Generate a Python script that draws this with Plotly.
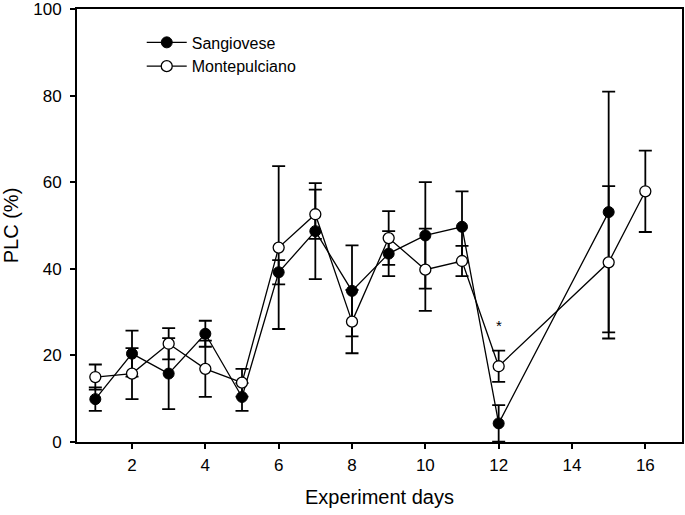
import plotly.graph_objects as go

# Sangiovese (filled circles)
days_s = [1, 2, 3, 4, 5, 6, 7, 8, 9, 10, 11, 12, 15]
plc_s = [9.9, 20.4, 15.8, 25.0, 10.4, 39.2, 48.7, 34.9, 43.5, 47.7, 49.7, 4.3, 53.1]
err_s = [2.7, 5.3, 8.2, 3.0, 3.2, 2.8, 11.1, 10.5, 5.2, 12.3, 8.2, 4.2, 27.8]

# Montepulciano (open circles)
days_m = [1, 2, 3, 4, 5, 6, 7, 8, 9, 10, 11, 12, 15, 16]
plc_m = [15.0, 15.8, 22.7, 16.9, 13.7, 44.9, 52.6, 27.8, 47.1, 39.8, 41.8, 17.5, 41.5, 57.9]
err_m = [2.9, 5.9, 3.6, 6.5, 3.2, 18.8, 5.7, 7.3, 6.2, 9.5, 3.5, 3.6, 17.6, 9.4]

x_ticks = [2, 4, 6, 8, 10, 12, 14, 16]
y_ticks = [0, 20, 40, 60, 80, 100]

FONT = "Liberation Sans, Arial, sans-serif"

fig = go.Figure()
fig.add_trace(go.Scatter(
    x=days_s, y=plc_s, name="Sangiovese", mode="lines+markers",
    line=dict(color="black", width=1.3),
    marker=dict(symbol="circle", size=11, color="black", line=dict(color="black", width=1)),
    error_y=dict(type="data", array=err_s, visible=True, color="black", thickness=1.8, width=6.5),
))
fig.add_trace(go.Scatter(
    x=days_m, y=plc_m, name="Montepulciano", mode="lines+markers",
    line=dict(color="black", width=1.3),
    marker=dict(symbol="circle", size=11, color="white", line=dict(color="black", width=1.3)),
    error_y=dict(type="data", array=err_m, visible=True, color="black", thickness=1.8, width=6.5),
))

fig.add_annotation(x=12, y=27, xref="x", yref="y", text="*", showarrow=False,
                   font=dict(family=FONT, size=15, color="black"))

fig.update_layout(
    width=685, height=515,
    margin=dict(l=77, r=3, t=9, b=73, autoexpand=False),
    plot_bgcolor="white", paper_bgcolor="white",
    font=dict(family=FONT, color="black"),
    legend=dict(x=0.107, y=0.962, xanchor="left", yanchor="top",
                font=dict(family=FONT, size=16, color="black"),
                bgcolor="rgba(0,0,0,0)", itemwidth=40),
    showlegend=True,
)
fig.update_xaxes(
    range=[0.5, 17], tickvals=x_ticks, ticktext=[str(v) for v in x_ticks],
    ticks="outside", ticklen=5, tickwidth=1.5, tickcolor="black",
    showline=True, linecolor="black", linewidth=1.8, mirror=True,
    showgrid=False, zeroline=False, automargin=False,
    ticklabeloverflow="allow", ticklabelstandoff=2,
    tickfont=dict(family=FONT, size=17, color="black"),
    title=dict(text="Experiment days", font=dict(family=FONT, size=20, color="black"), standoff=16),
)
fig.update_yaxes(
    range=[0, 100], tickvals=y_ticks, ticktext=[str(v) for v in y_ticks],
    ticks="outside", ticklen=5, tickwidth=1.5, tickcolor="black",
    showline=True, linecolor="black", linewidth=1.8, mirror=True,
    showgrid=False, zeroline=False, automargin=False,
    ticklabeloverflow="allow", ticklabelstandoff=5,
    tickfont=dict(family=FONT, size=17, color="black"),
    title=dict(text="PLC (%)", font=dict(family=FONT, size=20, color="black"), standoff=14),
)

fig.write_html("out.html", config={"displayModeBar": False},
               post_script="document.body.style.margin='0';")
